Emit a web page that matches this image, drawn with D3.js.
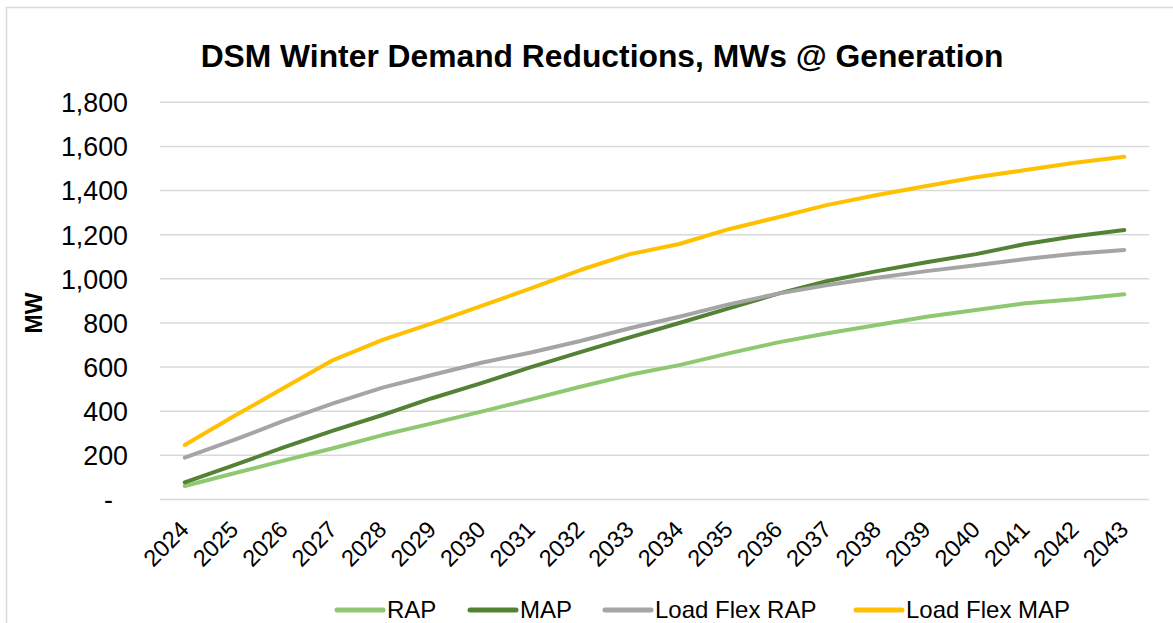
<!DOCTYPE html>
<html>
<head>
<meta charset="utf-8">
<script src="https://cdn.jsdelivr.net/npm/d3@7"></script>
<style>
  body { margin: 0; background: #fff; }
  text { font-family: "Liberation Sans", Arial, sans-serif; fill: #000; }
</style>
</head>
<body>
<div id="chart"></div>
<script>
// chart values
var years = ["2024", "2025", "2026", "2027", "2028", "2029", "2030", "2031", "2032", "2033",
             "2034", "2035", "2036", "2037", "2038", "2039", "2040", "2041", "2042", "2043"];
var rap = [61, 119, 176, 232, 292, 345, 398, 454, 511, 565, 609, 662, 712, 753, 791, 828, 859, 889, 907, 930];
var map = [78, 156, 236, 312, 383, 459, 527, 600, 668, 735, 800, 866, 933, 990, 1035, 1075, 1112, 1158, 1193, 1221];
var lfRap = [190, 270, 356, 436, 507, 564, 620, 666, 718, 776, 828, 884, 933, 972, 1005, 1035, 1062, 1090, 1114, 1131];
var lfMap = [247, 378, 505, 632, 723, 798, 877, 957, 1040, 1112, 1158, 1225, 1279, 1335, 1380, 1421, 1460, 1493, 1526, 1553];
var yTicks = [0, 200, 400, 600, 800, 1000, 1200, 1400, 1600, 1800];
var seriesNames = ["RAP", "MAP", "Load Flex RAP", "Load Flex MAP"];
var seriesColors = ["#8fc870", "#548235", "#a5a5a5", "#ffc000"];

var width = 1173, height = 623;

var svg = d3.select("#chart")
    .append("svg")
    .attr("width", width)
    .attr("height", height);

// chart frame
svg.append("rect")
    .attr("x", 6.5)
    .attr("y", 7.5)
    .attr("width", 1200)
    .attr("height", 700)
    .attr("fill", "none")
    .attr("stroke", "#d9d9d9")
    .attr("stroke-width", 1.5);

var x = d3.scalePoint()
    .domain(years)
    .range([160, 1149])
    .padding(0.5);

var y = d3.scaleLinear()
    .domain([0, 1800])
    .range([499.5, 102.3]);

// title
svg.append("text")
    .attr("x", 602)
    .attr("y", 67)
    .attr("text-anchor", "middle")
    .attr("font-size", "31.8px")
    .attr("font-weight", "bold")
    .text("DSM Winter Demand Reductions, MWs @ Generation");

// gridlines
svg.append("g")
    .attr("class", "grid")
    .selectAll("line")
    .data(yTicks)
    .enter().append("line")
    .attr("x1", 160)
    .attr("x2", 1149)
    .attr("y1", function(d) { return y(d); })
    .attr("y2", function(d) { return y(d); })
    .attr("stroke", "#d9d9d9")
    .attr("stroke-width", 1.5);

// y axis
var gy = svg.append("g")
    .attr("transform", "translate(128,0)")
    .call(d3.axisLeft(y)
        .tickValues(yTicks)
        .tickSize(0)
        .tickPadding(0)
        .tickFormat(function(d) { return d === 0 ? "-" : d3.format(",")(d); }));
gy.select(".domain").remove();
gy.selectAll("text")
    .attr("font-size", "26.8px")
    .attr("font-family", "Liberation Sans, Arial, sans-serif")
    .attr("fill", "#000")
    .attr("dy", "0.35em")
    .attr("x", function(d) { return d === 0 ? -15 : 0; });

svg.append("text")
    .attr("transform", "translate(42,313) rotate(-90)")
    .attr("text-anchor", "middle")
    .attr("font-size", "23px")
    .attr("font-weight", "bold")
    .text("MW");

// x axis labels
var gx = svg.append("g")
    .attr("transform", "translate(0,531)")
    .call(d3.axisBottom(x).tickSize(0).tickPadding(0));
gx.select(".domain").remove();
gx.selectAll("text")
    .attr("font-size", "23.5px")
    .attr("font-family", "Liberation Sans, Arial, sans-serif")
    .attr("fill", "#000")
    .attr("text-anchor", "end")
    .attr("dy", 0)
    .attr("y", 0)
    .attr("transform", "translate(5,0) rotate(-45)");

// series lines
var seriesData = [rap, map, lfRap, lfMap];
var line = d3.line()
    .x(function(d, i) { return x(years[i]); })
    .y(function(d) { return y(d); });

svg.append("g")
    .attr("class", "series")
    .selectAll("path")
    .data(seriesData)
    .enter().append("path")
    .attr("d", line)
    .attr("fill", "none")
    .attr("stroke", function(d, i) { return seriesColors[i]; })
    .attr("stroke-width", 4)
    .attr("stroke-linecap", "round")
    .attr("stroke-linejoin", "round");

// legend
var legendX = [337, 470, 605, 856];
var legend = svg.append("g")
    .attr("class", "legend")
    .selectAll("g")
    .data(seriesNames)
    .enter().append("g")
    .attr("transform", function(d, i) { return "translate(" + legendX[i] + ",610)"; });

legend.append("line")
    .attr("x1", 0)
    .attr("x2", 46)
    .attr("stroke", function(d, i) { return seriesColors[i]; })
    .attr("stroke-width", 5)
    .attr("stroke-linecap", "round");

legend.append("text")
    .attr("x", 50)
    .attr("dy", "0.35em")
    .attr("font-size", "24px")
    .text(function(d) { return d; });
</script>
</body>
</html>
